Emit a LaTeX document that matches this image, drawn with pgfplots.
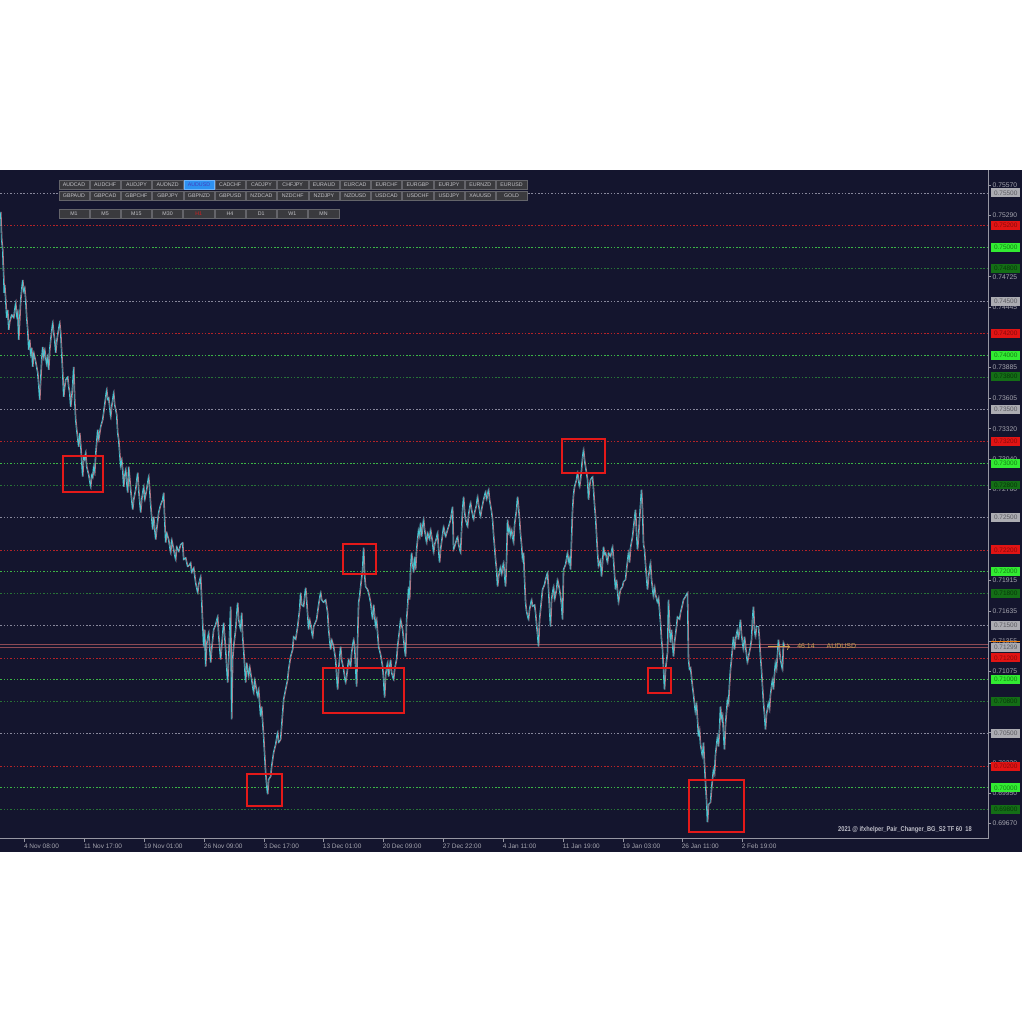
\documentclass[border=0pt]{standalone}
\usepackage{pgfplots}
\pgfplotsset{compat=1.18}
\usepackage{pgfplotstable}
\usepackage{graphicx}
\usetikzlibrary{arrows.meta}
\usepackage{fontspec}
\setmainfont{Liberation Sans}

\definecolor{panel}{RGB}{20,21,46}
\definecolor{bull}{RGB}{70,200,212}
\definecolor{bear}{RGB}{215,130,142}
\definecolor{axisgray}{RGB}{150,150,162}
\definecolor{lblgray}{RGB}{165,165,175}
\definecolor{lvlgray}{RGB}{135,135,155}
\definecolor{lvlred}{RGB}{180,35,40}
\definecolor{lvlgreen}{RGB}{60,180,70}
\definecolor{lvldark}{RGB}{40,115,55}
\definecolor{boxred}{RGB}{228,25,25}
\definecolor{btnfill}{RGB}{58,58,62}
\definecolor{btnline}{RGB}{100,100,106}
\definecolor{btntext}{RGB}{195,195,200}
\definecolor{tan}{RGB}{200,160,80}
\definecolor{curline}{RGB}{140,75,85}
% level label boxes: fill / text
\definecolor{lvfg}{RGB}{172,172,178}\definecolor{lvtg}{RGB}{90,90,96}
\definecolor{lvfr}{RGB}{225,20,20}\definecolor{lvtr}{RGB}{135,10,10}
\definecolor{lvfG}{RGB}{50,235,50}\definecolor{lvtG}{RGB}{20,125,20}
\definecolor{lvfd}{RGB}{20,110,22}\definecolor{lvtd}{RGB}{8,55,10}

% AUDUSD H1, x = chart position (px), p = price
\pgfplotstableread[row sep=\\]{
x p\\
0 0.75324\\ 1 0.75066\\ 2 0.74973\\ 2.5 0.74835\\ 3 0.74724\\ 3.5 0.74576\\ 4 0.74650\\ 5 0.74511\\ 6 0.74345\\ 7 0.74419\\
8 0.74234\\ 9 0.74308\\ 11 0.74373\\ 13 0.74345\\ 15 0.74484\\ 16 0.74354\\ 17 0.74400\\ 18 0.74142\\ 19 0.74327\\ 20 0.74511\\
21 0.74604\\ 22 0.74696\\ 23 0.74585\\ 24 0.74622\\ 25 0.74511\\ 26 0.74345\\ 27 0.74234\\ 28 0.74049\\ 29 0.74142\\ 30 0.74003\\
31 0.74068\\ 32 0.73892\\ 33 0.74022\\ 35 0.73938\\ 37 0.73837\\ 38 0.73726\\ 39 0.73587\\ 40 0.73772\\ 41 0.73957\\ 42 0.74077\\
43 0.73975\\ 44 0.74049\\ 46 0.73911\\ 47 0.73985\\ 48 0.73865\\ 49 0.74049\\ 50 0.74142\\ 52 0.74299\\ 53 0.74206\\ 54 0.74142\\
55 0.74022\\ 56 0.74123\\ 57 0.74188\\ 59 0.74299\\ 60 0.74206\\ 61 0.74022\\ 62 0.73837\\ 63 0.73615\\ 64 0.73707\\ 65 0.73772\\
67 0.73800\\ 68 0.73707\\ 69 0.73652\\ 70 0.73523\\ 71 0.73606\\ 72 0.73726\\ 73 0.73892\\ 74 0.73587\\ 75 0.73403\\ 76 0.73310\\
78 0.73153\\ 79 0.73282\\ 80 0.73172\\ 82 0.72876\\ 83 0.73061\\ 84 0.73033\\ 85 0.73098\\ 86 0.72968\\ 88 0.72894\\ 90 0.72783\\
91 0.72894\\ 92 0.72867\\ 93 0.72968\\ 94 0.72913\\ 95 0.73079\\ 97 0.73310\\ 98 0.73218\\ 100 0.73338\\ 102 0.73403\\ 104 0.73541\\
106 0.73680\\ 107 0.73587\\ 108 0.73606\\ 110 0.73430\\ 111 0.73523\\ 112 0.73587\\ 113 0.73652\\ 114 0.73541\\ 116 0.73449\\ 117 0.73282\\
118 0.73218\\ 120 0.72968\\ 121 0.73033\\ 122 0.72941\\ 123 0.72783\\ 124 0.72876\\ 125 0.72941\\ 127 0.72728\\ 128 0.72968\\ 130 0.72756\\
132 0.72571\\ 133 0.72663\\ 135 0.72756\\ 137 0.72913\\ 138 0.72756\\ 140 0.72543\\ 141 0.72663\\ 143 0.72783\\ 144 0.72663\\ 146 0.72756\\
148 0.72876\\ 149 0.72756\\ 150 0.72617\\ 152 0.72386\\ 153 0.72506\\ 155 0.72294\\ 156 0.72386\\ 158 0.72543\\ 160 0.72617\\ 162 0.72663\\
163 0.72728\\ 164 0.72479\\ 165 0.72266\\ 166 0.72358\\ 168 0.72294\\ 170 0.72174\\ 171 0.72294\\ 173 0.72201\\ 175 0.72109\\ 176 0.72229\\
178 0.72183\\ 180 0.72248\\ 182 0.72266\\ 183 0.72109\\ 185 0.72127\\ 187 0.72044\\ 189 0.72063\\ 190 0.72081\\ 191 0.71989\\ 193 0.72035\\
195 0.71896\\ 197 0.71804\\ 198 0.71878\\ 200 0.71952\\ 201 0.71739\\ 203 0.71305\\ 204 0.71462\\ 205 0.71120\\ 206 0.71324\\ 208 0.71434\\
209 0.71305\\ 210 0.71157\\ 211 0.71277\\ 212 0.71370\\ 213 0.71462\\ 215 0.71508\\ 217 0.71582\\ 218 0.71416\\ 220 0.71185\\ 221 0.71305\\
223 0.71527\\ 225 0.71277\\ 227 0.70972\\ 228 0.71185\\ 230 0.71675\\ 231 0.70631\\ 232 0.71185\\ 233 0.71305\\ 235 0.71462\\ 237 0.71712\\
238 0.71555\\ 240 0.71462\\ 241 0.71619\\ 242 0.71397\\ 243 0.71277\\ 245 0.70972\\ 246 0.71157\\ 248 0.71028\\ 249 0.71120\\ 251 0.71000\\
253 0.70880\\ 254 0.71000\\ 257 0.70843\\ 258 0.70908\\ 260 0.70658\\ 261 0.70751\\ 263 0.70473\\ 264 0.70307\\ 265 0.70141\\ 266 0.70030\\
267 0.69938\\ 268 0.70076\\ 270 0.70104\\ 271 0.70196\\ 273 0.70326\\ 275 0.70400\\ 277 0.70510\\ 278 0.70418\\ 280 0.70446\\ 281 0.70566\\
283 0.70815\\ 285 0.70908\\ 287 0.71000\\ 288 0.71093\\ 290 0.71213\\ 292 0.71277\\ 293 0.71397\\ 295 0.71370\\ 297 0.71490\\ 299 0.71647\\
300 0.71804\\ 301 0.71693\\ 303 0.71675\\ 305 0.71850\\ 306 0.71739\\ 308 0.71462\\ 309 0.71555\\ 310 0.71508\\ 312 0.71397\\ 313 0.71490\\
316 0.71555\\ 318 0.71693\\ 320 0.71804\\ 321 0.71739\\ 323 0.71712\\ 325 0.71739\\ 327 0.71619\\ 328 0.71462\\ 330 0.71277\\ 331 0.71370\\
333 0.71305\\ 335 0.71185\\ 337 0.70908\\ 338 0.71093\\ 340 0.71305\\ 341 0.71185\\ 343 0.71093\\ 345 0.70972\\ 346 0.71028\\ 348 0.71185\\
350 0.71120\\ 351 0.71250\\ 353 0.71370\\ 354 0.71305\\ 356 0.70935\\ 357 0.71370\\ 358 0.71712\\ 359 0.71767\\ 360 0.71859\\ 362 0.72017\\
363 0.72220\\ 364 0.71970\\ 365 0.71859\\ 367 0.71832\\ 368 0.71804\\ 370 0.71712\\ 372 0.71555\\ 373 0.71693\\ 375 0.71490\\ 376 0.71555\\
378 0.71305\\ 380 0.71231\\ 382 0.71120\\ 383 0.71000\\ 384 0.70834\\ 385 0.71046\\ 387 0.71157\\ 388 0.71028\\ 390 0.71185\\ 391 0.71065\\
393 0.71000\\ 394 0.71093\\ 396 0.71185\\ 397 0.71305\\ 399 0.71462\\ 400 0.71555\\ 402 0.71462\\ 403 0.71370\\ 405 0.71213\\ 406 0.71555\\
407 0.71675\\ 408 0.71859\\ 409 0.71739\\ 410 0.72017\\ 411 0.72174\\ 412 0.72081\\ 413 0.71989\\ 414 0.72137\\ 415 0.72017\\ 416 0.72201\\
417 0.72294\\ 418 0.72386\\ 419 0.72321\\ 420 0.72451\\ 421 0.72321\\ 423 0.72479\\ 424 0.72386\\ 426 0.72266\\ 427 0.72358\\ 429 0.72294\\
430 0.72386\\ 432 0.72266\\ 433 0.72174\\ 434 0.72248\\ 436 0.72312\\ 437 0.72358\\ 438 0.72201\\ 439 0.72081\\ 440 0.72201\\ 442 0.72340\\
443 0.72414\\ 445 0.72321\\ 447 0.72386\\ 448 0.72414\\ 450 0.72479\\ 452 0.72599\\ 453 0.72201\\ 454 0.72229\\ 456 0.72294\\ 457 0.72321\\
458 0.72248\\ 460 0.72174\\ 461 0.72386\\ 462 0.72571\\ 463 0.72691\\ 464 0.72552\\ 465 0.72479\\ 467 0.72414\\ 468 0.72525\\ 470 0.72636\\
471 0.72571\\ 473 0.72479\\ 474 0.72543\\ 476 0.72617\\ 477 0.72691\\ 478 0.72617\\ 480 0.72506\\ 481 0.72571\\ 483 0.72663\\ 485 0.72737\\
486 0.72663\\ 488 0.72756\\ 489 0.72663\\ 491 0.72552\\ 492 0.72479\\ 493 0.72340\\ 494 0.72229\\ 495 0.72109\\ 496 0.72017\\ 497 0.71859\\
498 0.71952\\ 500 0.72044\\ 501 0.71970\\ 503 0.72081\\ 504 0.71970\\ 505 0.71859\\ 506 0.72109\\ 507 0.72479\\ 508 0.72358\\ 509 0.72405\\
510 0.72321\\ 511 0.72386\\ 513 0.72266\\ 514 0.72432\\ 516 0.72571\\ 517 0.72691\\ 518 0.72589\\ 519 0.72479\\ 520 0.72340\\ 521 0.72248\\
522 0.72109\\ 523 0.72174\\ 524 0.71924\\ 525 0.71712\\ 526 0.71628\\ 528 0.71555\\ 529 0.71647\\ 531 0.71739\\ 532 0.71675\\ 534 0.71693\\
535 0.71619\\ 536 0.71508\\ 537 0.71416\\ 538 0.71305\\ 539 0.71555\\ 541 0.71739\\ 542 0.71832\\ 544 0.71878\\ 545 0.71924\\ 547 0.71989\\
548 0.71832\\ 549 0.71647\\ 550 0.71490\\ 551 0.71739\\ 553 0.71859\\ 554 0.71739\\ 556 0.71832\\ 557 0.71924\\ 559 0.71832\\ 560 0.71767\\
561 0.71693\\ 562 0.71555\\ 563 0.72017\\ 565 0.72063\\ 567 0.72174\\ 568 0.72081\\ 569 0.72127\\ 570 0.72017\\ 571 0.72294\\ 572 0.72571\\
573 0.72710\\ 574 0.72783\\ 576 0.72848\\ 577 0.72913\\ 579 0.72783\\ 580 0.72848\\ 581 0.72941\\ 582 0.73051\\ 583 0.73125\\ 584 0.73033\\
585 0.72968\\ 587 0.72848\\ 588 0.72663\\ 589 0.72783\\ 590 0.72848\\ 592 0.72876\\ 593 0.72756\\ 594 0.72617\\ 595 0.72506\\ 596 0.72340\\
597 0.72174\\ 598 0.72044\\ 600 0.72109\\ 601 0.71952\\ 602 0.72081\\ 603 0.72229\\ 604 0.72155\\ 605 0.72174\\ 607 0.72081\\ 608 0.72174\\
610 0.72137\\ 612 0.72229\\ 613 0.72109\\ 615 0.71832\\ 616 0.71924\\ 618 0.71712\\ 619 0.71786\\ 620 0.71832\\ 622 0.71859\\ 623 0.71906\\
625 0.71924\\ 626 0.72017\\ 628 0.72174\\ 629 0.72081\\ 630 0.72220\\ 632 0.72321\\ 633 0.72405\\ 635 0.72571\\ 636 0.72358\\ 637 0.72201\\
638 0.72321\\ 639 0.72479\\ 640 0.72617\\ 641 0.72756\\ 642 0.72571\\ 643 0.72248\\ 644 0.72201\\ 645 0.72063\\ 647 0.71832\\ 648 0.71952\\
650 0.72081\\ 651 0.71924\\ 653 0.71767\\ 654 0.71859\\ 655 0.71786\\ 657 0.71712\\ 658 0.71758\\ 660 0.71527\\ 661 0.71370\\ 662 0.71277\\
663 0.71093\\ 664 0.70908\\ 665 0.71093\\ 667 0.71250\\ 668 0.71739\\ 669 0.71508\\ 670 0.71342\\ 671 0.71462\\ 673 0.71213\\ 674 0.71342\\
676 0.71490\\ 677 0.71582\\ 679 0.71555\\ 680 0.71619\\ 682 0.71693\\ 683 0.71739\\ 685 0.71767\\ 687 0.71804\\ 688 0.71185\\ 689 0.71093\\
690 0.71111\\ 692 0.70935\\ 693 0.70862\\ 695 0.70695\\ 696 0.70788\\ 698 0.70473\\ 699 0.70538\\ 700 0.70400\\ 702 0.70289\\ 703 0.70418\\
704 0.70215\\ 705 0.70048\\ 706 0.69891\\ 707 0.69679\\ 708 0.69845\\ 710 0.69864\\ 711 0.69984\\ 713 0.70169\\ 714 0.70122\\ 715 0.70307\\
717 0.70473\\ 718 0.70381\\ 719 0.70538\\ 720 0.70751\\ 721 0.70631\\ 722 0.70677\\ 724 0.70353\\ 725 0.70584\\ 727 0.70815\\ 728 0.70769\\
729 0.70954\\ 730 0.71093\\ 731 0.71185\\ 733 0.71397\\ 734 0.71277\\ 735 0.71370\\ 737 0.71462\\ 738 0.71370\\ 740 0.71555\\ 741 0.71416\\
743 0.71277\\ 744 0.71397\\ 746 0.71231\\ 747 0.71157\\ 748 0.71213\\ 750 0.71305\\ 751 0.71370\\ 752 0.71555\\ 753 0.71675\\ 754 0.71462\\
755 0.71397\\ 756 0.71490\\ 758 0.71490\\ 759 0.71370\\ 760 0.71213\\ 761 0.71093\\ 762 0.70935\\ 763 0.70788\\ 764 0.70677\\ 765 0.70538\\
766 0.70677\\ 768 0.70788\\ 769 0.70721\\ 770 0.70862\\ 772 0.71000\\ 773 0.70908\\ 774 0.71046\\ 775 0.71157\\ 776 0.71093\\ 778 0.71370\\
779 0.71277\\ 780 0.71185\\ 782 0.71093\\ 783 0.71342\\ 784 0.71305\\
}\audusd

\begin{document}
\begin{tikzpicture}[x=1bp,y=1bp]
% page and chart panel
\fill[white] (0,0) rectangle (1024,1024);
\fill[panel] (0,172) rectangle (1022,854);

\begin{axis}[
    at={(0bp,185bp)}, anchor=south west,
    scale only axis, width=988bp, height=669bp,
    xmin=0, xmax=988, ymin=0.695285, ymax=0.757126,
    axis x line*=bottom, axis y line*=right,
    axis line style={draw=axisgray, line width=0.6pt},
    tick align=outside, major tick length=3bp,
    tick style={draw=axisgray, line width=0.5pt},
    xtick={24,84,144,204,264,323,383,443,503,563,623,682,742},
    xticklabels={4 Nov 08:00, 11 Nov 17:00, 19 Nov 01:00, 26 Nov 09:00, 3 Dec 17:00, 13 Dec 01:00, 20 Dec 09:00, 27 Dec 22:00, 4 Jan 11:00, 11 Jan 19:00, 19 Jan 03:00, 26 Jan 11:00, 2 Feb 19:00},
    xticklabel style={anchor=north west, xshift=-2bp, inner sep=1.5bp, text height=5bp, text depth=1.5bp,
        text=lblgray, font=\fontsize{6.5}{7}\selectfont},
    ytick={0.69670,0.69950,0.70230,0.70510,0.71075,0.71355,0.71635,0.71915,0.72760,0.73040,0.73320,0.73605,0.73885,0.74445,0.74725,0.75290,0.75570},
    yticklabel style={anchor=west, inner sep=1.5bp, text=lblgray, font=\fontsize{6.8}{7}\selectfont,
        /pgf/number format/.cd, fixed, fixed zerofill, precision=5, assume math mode=true},
    scaled y ticks=false,
    clip=false,
]
% level lines
\pgfplotsinvokeforeach{0.755,0.745,0.735,0.725,0.715,0.705}{
  \draw[lvlgray, line width=0.5pt, dash pattern=on 1.5bp off 1.8bp] (axis cs:0,#1) -- (axis cs:988,#1);}
\pgfplotsinvokeforeach{0.752,0.742,0.732,0.722,0.712,0.702}{
  \draw[lvlred, line width=0.5pt, dash pattern=on 1.5bp off 1.8bp] (axis cs:0,#1) -- (axis cs:988,#1);}
\pgfplotsinvokeforeach{0.750,0.740,0.730,0.720,0.710,0.700}{
  \draw[lvlgreen, line width=0.5pt, dash pattern=on 1.5bp off 1.8bp] (axis cs:0,#1) -- (axis cs:988,#1);}
\pgfplotsinvokeforeach{0.748,0.738,0.728,0.718,0.708,0.698}{
  \draw[lvldark, line width=0.5pt, dash pattern=on 1.5bp off 1.8bp] (axis cs:0,#1) -- (axis cs:988,#1);}
% bid / ask lines
\draw[curline, line width=0.7pt] (axis cs:0,0.71299) -- (axis cs:988,0.71299);
\draw[curline, line width=0.7pt] (axis cs:0,0.71327) -- (axis cs:988,0.71327);

% price
\addplot[bear, line width=0.8pt, opacity=0.85] table[x expr=\thisrow{x}+0.8, y=p] {\audusd};
\addplot[bull, line width=0.7pt] table[x=x, y=p] {\audusd};
\end{axis}

% level labels on the price scale
\foreach \p/\c in {0.755/g,0.752/r,0.750/G,0.748/d,0.745/g,0.742/r,0.740/G,0.738/d,
                   0.735/g,0.732/r,0.730/G,0.728/d,0.725/g,0.722/r,0.720/G,0.718/d,
                   0.715/g,0.712/r,0.710/G,0.708/d,0.705/g,0.702/r,0.700/G,0.698/d}{
  \pgfmathsetmacro\yy{831-(0.755-\p)*10818}
  \node[fill=lvf\c, text=lvt\c, minimum width=29bp, minimum height=9bp, inner sep=0pt,
        anchor=west, font=\fontsize{6.5}{7}\selectfont] at (991,\yy)
        {\pgfmathprintnumber[fixed,fixed zerofill,precision=5,assume math mode=true]{\p}};
}
% current price label
\draw[orange!80!brown, line width=1.4bp] (991,382) -- (1020,382);
\node[fill=lvfg, text=lvtg, minimum width=29bp, minimum height=9bp, inner sep=0pt,
      anchor=west, font=\fontsize{6.5}{7}\selectfont] at (991,376.5) {0.71299};
\draw[tan, line width=0.7pt, -{To[length=3bp]}] (768,377) -- (790,377);
\node[anchor=west, text=tan, inner sep=0pt, font=\fontsize{7}{8}\selectfont] at (797,378) {46:14\hspace{12bp}AUDUSD};

% watermark
\node[anchor=east, inner sep=0pt, text={rgb,255:red,190;green,190;blue,200}] at (972,194)
  {\scalebox{0.82}[1]{\fontsize{7}{8}\selectfont\bfseries 2021 @ ifxhelper\_Pair\_Changer\_BG\_S2 TF 60\ \ 18}};

% highlight boxes
\begin{scope}[boxred, line width=2bp]
\draw (63,532) rectangle (103,568);
\draw (343,450) rectangle (376,480);
\draw (323,311) rectangle (404,356);
\draw (247,218) rectangle (282,250);
\draw (562,551) rectangle (605,585);
\draw (648,331) rectangle (671,356);
\draw (689,192) rectangle (744,244);
\end{scope}

% symbol and timeframe buttons
\tikzset{btn/.style={fill=btnfill, draw=btnline, line width=0.4pt, text=btntext, inner sep=0pt,
    minimum width=30.3bp, minimum height=9.2bp, font=\fontsize{5.3}{5.5}\selectfont}}
\foreach \n [count=\i from 0] in {AUDCAD,AUDCHF,AUDJPY,AUDNZD,AUDUSD,CADCHF,CADJPY,CHFJPY,EURAUD,EURCAD,EURCHF,EURGBP,EURJPY,EURNZD,EURUSD}
  \node[btn] at (73.6+31.27*\i,839) {\n};
\foreach \n [count=\i from 0] in {GBPAUD,GBPCAD,GBPCHF,GBPJPY,GBPNZD,GBPUSD,NZDCAD,NZDCHF,NZDJPY,NZDUSD,USDCAD,USDCHF,USDJPY,XAUUSD,GOLD}
  \node[btn] at (73.6+31.27*\i,828.5) {\n};
\foreach \n [count=\i from 0] in {M1,M5,M15,M30,H1,H4,D1,W1,MN}
  \node[btn] at (73.6+31.22*\i,810) {\n};
\node[btn, fill={rgb,255:red,45;green,145;blue,240}, draw={rgb,255:red,110;green,180;blue,250}, text={rgb,255:red,70;green,60;blue,190}] at (73.6+31.27*4,839) {AUDUSD};
\node[btn, text={rgb,255:red,215;green,30;blue,30}] at (73.6+31.22*4,810) {H1};
\end{tikzpicture}
\end{document}
